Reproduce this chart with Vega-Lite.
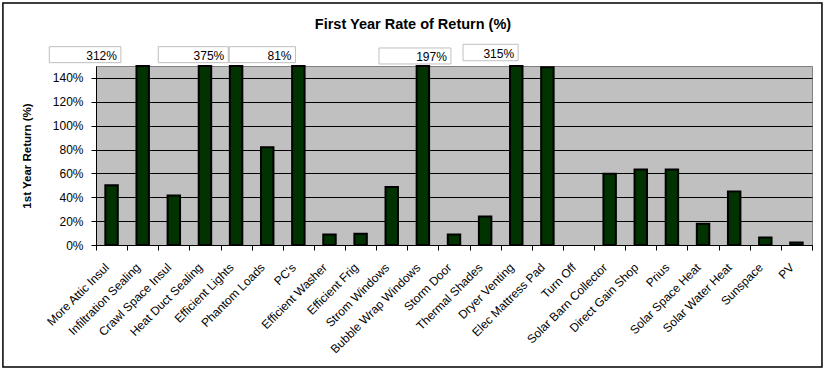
{
  "$schema": "https://vega.github.io/schema/vega-lite/v6.json",
  "width": 716,
  "height": 179,
  "autosize": "none",
  "padding": {"left": 96, "top": 66, "right": 15, "bottom": 131},
  "background": "white",
  "title": {
    "text": "First Year Rate of Return (%)",
    "font": "Liberation Sans",
    "fontSize": 14.5,
    "fontWeight": "bold",
    "color": "black",
    "anchor": "middle",
    "frame": "group",
    "dx": -41,
    "offset": -30
  },
  "config": {
    "font": "Liberation Sans",
    "view": {"fill": "#c0c0c0", "stroke": "#808080", "strokeWidth": 1}
  },
  "datasets": {
    "bars": [
      {"item": "More Attic Insul", "ret": 50},
      {"item": "Infiltration Sealing", "ret": 312},
      {"item": "Crawl Space Insul", "ret": 41.5},
      {"item": "Heat Duct Sealing", "ret": 375},
      {"item": "Efficient Lights", "ret": 281},
      {"item": "Phantom Loads", "ret": 82},
      {"item": "PC's", "ret": 200},
      {"item": "Efficient Washer", "ret": 8.7},
      {"item": "Efficient Frig", "ret": 9.5},
      {"item": "Strom Windows", "ret": 48.7},
      {"item": "Bubble Wrap Windows", "ret": 197},
      {"item": "Storm Door", "ret": 8.7},
      {"item": "Thermal Shades", "ret": 23.8},
      {"item": "Dryer Venting", "ret": 315},
      {"item": "Elec Mattress Pad", "ret": 149},
      {"item": "Turn Off", "ret": null},
      {"item": "Solar Barn Collector", "ret": 59.7},
      {"item": "Direct Gain Shop", "ret": 63.3},
      {"item": "Prius", "ret": 63.3},
      {"item": "Solar Space Heat", "ret": 17.9},
      {"item": "Solar Water Heat", "ret": 44.8},
      {"item": "Sunspace", "ret": 6.2},
      {"item": "PV", "ret": 2}
    ],
    "boxes": [
      {"label": "312%", "x0": -1.5, "x1": 0.8, "y0": 152.8, "y1": 166.2},
      {"label": "375%", "x0": 2.0, "x1": 4.25, "y0": 152.8, "y1": 166.2},
      {"label": "81%", "x0": 4.28, "x1": 6.41, "y0": 152.8, "y1": 166.2},
      {"label": "197%", "x0": 9.09, "x1": 11.4, "y0": 151.7, "y1": 165.1},
      {"label": "315%", "x0": 11.79, "x1": 13.56, "y0": 154.4, "y1": 168.2}
    ],
    "frame": [
      {"x0": -2.99, "x1": 23.32, "y0": -102.2, "y1": 202.8}
    ]
  },
  "resolve": {"scale": {"x": "independent", "y": "independent"}},
  "layer": [
    {
      "data": {"name": "bars"},
      "mark": {"type": "bar", "fill": "#003300", "stroke": "black", "strokeWidth": 2, "width": {"band": 0.4}},
      "encoding": {
        "x": {
          "field": "item",
          "type": "nominal",
          "scale": {
            "domain": ["More Attic Insul", "Infiltration Sealing", "Crawl Space Insul", "Heat Duct Sealing", "Efficient Lights", "Phantom Loads", "PC's", "Efficient Washer", "Efficient Frig", "Strom Windows", "Bubble Wrap Windows", "Storm Door", "Thermal Shades", "Dryer Venting", "Elec Mattress Pad", "Turn Off", "Solar Barn Collector", "Direct Gain Shop", "Prius", "Solar Space Heat", "Solar Water Heat", "Sunspace", "PV"],
            "paddingInner": 0,
            "paddingOuter": 0
          },
          "axis": {
            "title": null,
            "labelAngle": -45,
            "labelAlign": "right",
            "labelBaseline": "bottom",
            "labelFontSize": 12,
            "labelColor": "black",
            "labelPadding": 20,
            "labelFont": "Liberation Sans",
            "domainColor": "black",
            "tickColor": "black",
            "tickSize": 5,
            "tickBand": "extent",
            "grid": false,
            "labelOverlap": false
          }
        },
        "y": {
          "field": "ret",
          "type": "quantitative",
          "scale": {"domain": [0, 150], "clamp": true, "nice": false, "zero": true},
          "axis": {
            "title": "1st Year Return (%)",
            "titleFontSize": 11.5,
            "titleFontWeight": "bold",
            "titleColor": "black",
            "titleFont": "Liberation Sans",
            "titlePadding": 20,
            "values": [0, 20, 40, 60, 80, 100, 120, 140],
            "labelExpr": "datum.value + '%'",
            "labelFontSize": 12,
            "labelColor": "black",
            "labelPadding": 8,
            "labelFont": "Liberation Sans",
            "domainColor": "black",
            "tickColor": "black",
            "tickSize": 5,
            "grid": true,
            "gridColor": "black",
            "gridOpacity": 1,
            "gridWidth": 1
          }
        }
      }
    },
    {
      "data": {"name": "boxes"},
      "mark": {"type": "rect", "fill": "white", "stroke": "#bfbfbf", "strokeWidth": 1, "clip": false},
      "encoding": {
        "x": {"field": "x0", "type": "quantitative", "scale": {"domain": [0, 23], "nice": false, "zero": false}, "axis": null},
        "x2": {"field": "x1"},
        "y": {"field": "y0", "type": "quantitative", "scale": {"domain": [0, 150], "nice": false, "zero": false}, "axis": null},
        "y2": {"field": "y1"}
      }
    },
    {
      "data": {"name": "boxes"},
      "mark": {"type": "text", "align": "right", "baseline": "alphabetic", "dx": -4, "dy": -3, "fontSize": 12, "font": "Liberation Sans", "color": "black", "clip": false},
      "encoding": {
        "x": {"field": "x1", "type": "quantitative", "scale": {"domain": [0, 23], "nice": false, "zero": false}, "axis": null},
        "y": {"field": "y0", "type": "quantitative", "scale": {"domain": [0, 150], "nice": false, "zero": false}, "axis": null},
        "text": {"field": "label"}
      }
    },
    {
      "data": {"name": "frame"},
      "mark": {"type": "rect", "fill": null, "stroke": "black", "strokeWidth": 1.5, "clip": false},
      "encoding": {
        "x": {"field": "x0", "type": "quantitative", "scale": {"domain": [0, 23], "nice": false, "zero": false}, "axis": null},
        "x2": {"field": "x1"},
        "y": {"field": "y0", "type": "quantitative", "scale": {"domain": [0, 150], "nice": false, "zero": false}, "axis": null},
        "y2": {"field": "y1"}
      }
    }
  ]
}
